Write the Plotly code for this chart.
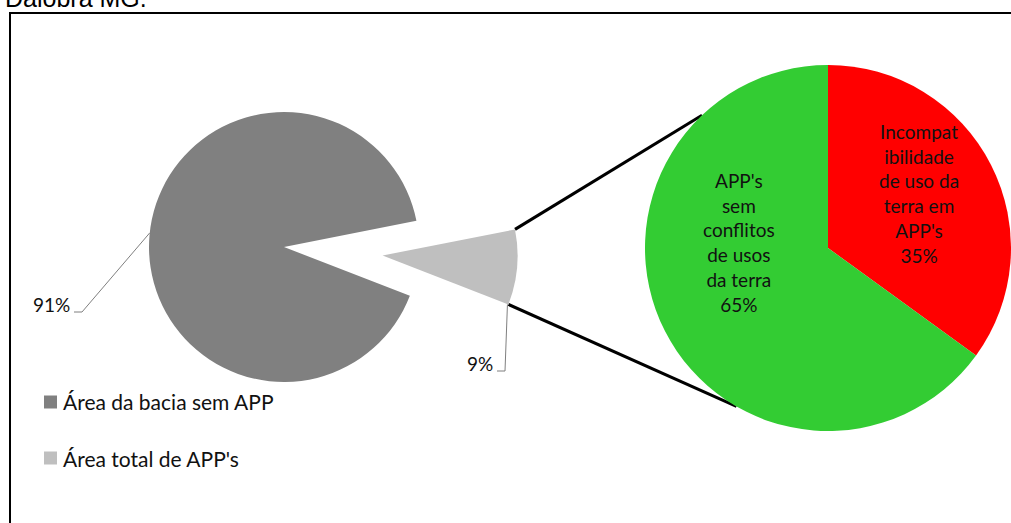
import math
import plotly.graph_objects as go

# ---------------- data ----------------
main_labels = ["Área da bacia sem APP", "Área total de APP's"]
main_values = [91, 9]
main_colors = ["#808080", "#BFBFBF"]

sub_labels = ["Incompatibilidade de uso da terra em APP's",
              "APP's sem conflitos de usos da terra"]
sub_values = [35, 65]
sub_colors = ["#FF0000", "#33CC33"]
sub_display = ["Incompat<br>ibilidade<br>de uso da<br>terra em<br>APP's",
               "APP's<br>sem<br>conflitos<br>de usos<br>da terra"]

caption_text = "Dalobra MG."

# ---------------- layout geometry (pixels) ----------------
W, H = 1011, 523
L_CX, L_CY, L_R = 284, 247, 135
PULL = 0.733
R_CX, R_CY, R_R = 828, 248, 183
SLICE_MID = 95.0          # direction of the exploded slice (deg clockwise from 12 o'clock)

FONT = "Lato"


def px(x):
    return x / W


def py(y):
    return 1 - y / H


def polar(cx, cy, r, ang):
    a = math.radians(ang)
    return cx + r * math.sin(a), cy - r * math.cos(a)


total_main = sum(main_values)
small_span = 360.0 * main_values[1] / total_main
small_start = SLICE_MID - small_span / 2
small_end = SLICE_MID + small_span / 2
rotation_main = small_end  # first slice starts where small slice ends

half_l = L_R * (1 + PULL)
fig = go.Figure()
fig.add_trace(go.Pie(
    labels=main_labels, values=main_values, sort=False, direction="clockwise",
    rotation=rotation_main, pull=[0, PULL],
    marker=dict(colors=main_colors, line=dict(width=0)),
    textinfo="none", showlegend=False, hoverinfo="label+percent",
    domain=dict(x=[px(L_CX - half_l), px(L_CX + half_l)],
                y=[py(L_CY + half_l), py(L_CY - half_l)]),
))

fig.add_trace(go.Pie(
    labels=sub_labels, values=sub_values, sort=False, direction="clockwise",
    rotation=0,
    marker=dict(colors=sub_colors, line=dict(width=0)),
    textinfo="none", showlegend=False, hoverinfo="label+percent",
    domain=dict(x=[px(R_CX - R_R), min(1.0, px(R_CX + R_R))],
                y=[py(R_CY + R_R), py(R_CY - R_R)]),
))

shapes = []
annotations = []

# frame
shapes.append(dict(type="rect", xref="paper", yref="paper",
                   x0=px(10), y0=py(13), x1=1.05, y1=-0.05,
                   line=dict(color="black", width=2), layer="below"))

# connector lines from exploded slice to the secondary pie
apex = polar(L_CX, L_CY, PULL * L_R, SLICE_MID)
c_up = polar(apex[0], apex[1], L_R, small_start)
c_dn = polar(apex[0], apex[1], L_R, small_end)
e_up = polar(R_CX, R_CY, R_R, 316.5)
e_dn = polar(R_CX, R_CY, R_R, 210.0)
for s, e in [(c_up, e_up), (c_dn, e_dn)]:
    shapes.append(dict(type="line", xref="paper", yref="paper",
                       x0=px(s[0]), y0=py(s[1]), x1=px(e[0]), y1=py(e[1]),
                       line=dict(color="black", width=3), layer="below"))

# leader for big slice
p_edge = polar(L_CX, L_CY, L_R, 276)
pts = [p_edge, (82, 312), (74, 312)]
path = "M " + " L ".join(f"{px(x)},{py(y)}" for x, y in pts)
shapes.append(dict(type="path", xref="paper", yref="paper", path=path,
                   line=dict(color="#7f7f7f", width=1)))
annotations.append(dict(xref="paper", yref="paper", x=px(72), y=py(304),
                        xanchor="right", yanchor="middle", showarrow=False,
                        text=f"{main_values[0]}%",
                        font=dict(family=FONT, size=19, color="#111111")))

# leader for small slice
pts = [(c_dn[0] - 1, c_dn[1]), (505, 371), (497, 371)]
path = "M " + " L ".join(f"{px(x)},{py(y)}" for x, y in pts)
shapes.append(dict(type="path", xref="paper", yref="paper", path=path,
                   line=dict(color="#7f7f7f", width=1)))
annotations.append(dict(xref="paper", yref="paper", x=px(495), y=py(363),
                        xanchor="right", yanchor="middle", showarrow=False,
                        text=f"{main_values[1]}%",
                        font=dict(family=FONT, size=19, color="#111111")))

# secondary pie labels
sub_pos = [(919, 193), (739, 242)]
for txt, v, (x, y) in zip(sub_display, sub_values, sub_pos):
    annotations.append(dict(xref="paper", yref="paper", x=px(x), y=py(y),
                            xanchor="center", yanchor="middle", showarrow=False,
                            align="center", text=f"{txt}<br>{v}%",
                            font=dict(family=FONT, size=19, color="#111111")))

# legend (manual)
leg_y = [402, 458]
for lab, col, y in zip(main_labels, main_colors, leg_y):
    shapes.append(dict(type="rect", xref="paper", yref="paper",
                       x0=px(44), x1=px(57), y0=py(y - 6.5), y1=py(y + 6.5),
                       fillcolor=col, line=dict(width=0)))
    annotations.append(dict(xref="paper", yref="paper", x=px(61), y=py(y),
                            xanchor="left", yanchor="middle", showarrow=False,
                            text=lab,
                            font=dict(family=FONT, size=21, color="#111111")))

# caption fragment cut by top edge (as in the reference)
annotations.append(dict(xref="paper", yref="paper", x=px(149), y=py(14),
                        xanchor="right", yanchor="bottom", showarrow=False,
                        text=caption_text,
                        font=dict(family="Liberation Sans", size=25, color="black")))

fig.update_layout(
    width=W, height=H,
    margin=dict(l=0, r=0, t=0, b=0),
    paper_bgcolor="white", plot_bgcolor="white",
    shapes=shapes, annotations=annotations,
    showlegend=False,
)

fig.write_html("out.html",
               config={"displayModeBar": False},
               post_script="document.body.style.margin='0';"
                           "document.body.style.overflow='hidden';")
